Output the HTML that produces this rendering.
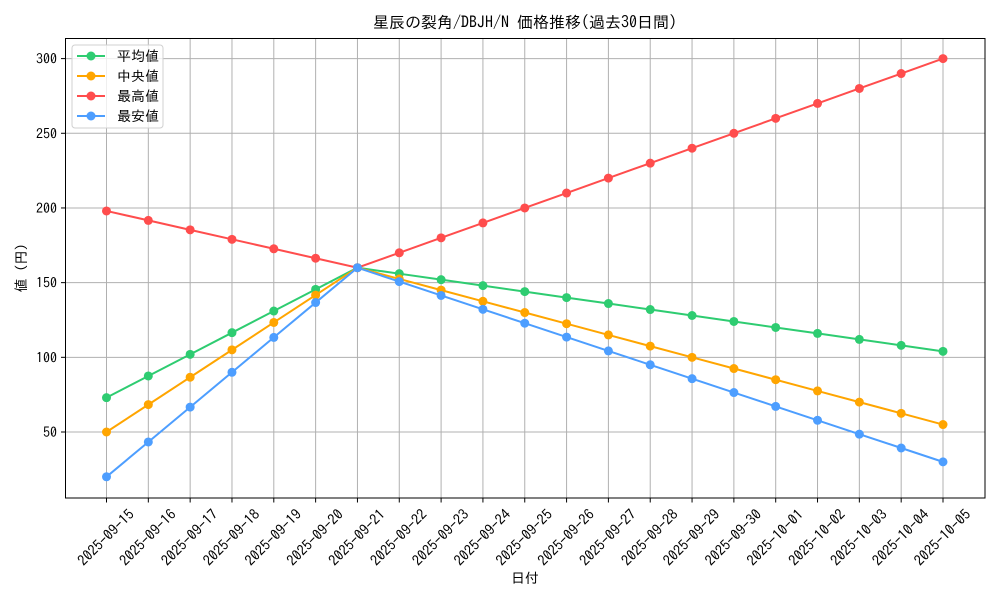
<!DOCTYPE html><html><head><meta charset="utf-8"><style>body{margin:0;background:#fff}svg{display:block;font-family:"IPAGothic","Noto Sans CJK JP",sans-serif}</style></head><body>
<svg id="s" width="1000" height="600" xmlns="http://www.w3.org/2000/svg"></svg>
<script>
const s=document.getElementById('s');let h='';
const X=i=>106.5+i*41.825, Y=v=>432-(v-50)*1.4936;
const dates=[];for(let i=0;i<21;i++){const d=new Date(Date.UTC(2025,8,15+i));dates.push(d.toISOString().slice(0,10));}
for(let i=0;i<21;i++){h+=`<line x1="${X(i)}" y1="38.5" x2="${X(i)}" y2="498" stroke="#b0b0b0" stroke-width="1"/>`;}
for(let v=50;v<=300;v+=50){h+=`<line x1="65.5" y1="${Y(v)}" x2="985" y2="${Y(v)}" stroke="#b0b0b0" stroke-width="1"/>`;
h+=`<line x1="61" y1="${Y(v)}" x2="65.5" y2="${Y(v)}" stroke="#000"/><text x="57" y="${Y(v)+5}" font-size="14" text-anchor="end">${v}</text>`;}
for(let i=0;i<21;i++){h+=`<line x1="${X(i)}" y1="498" x2="${X(i)}" y2="502.5" stroke="#000"/><text transform="translate(${X(i)+3},541) rotate(-45)" font-size="14.5" text-anchor="middle">${dates[i]}</text>`;}
const lin=(a,b,n)=>Array.from({length:n},(_,k)=>a+(b-a)*k/(n-1));
const ser=[
['#2ecc71',[...lin(73,160,7),...lin(156,104,14)]],
['#ffa500',[...lin(50,160,7),...lin(152.5,55,14)]],
['#ff4d4d',[...lin(198,160,7),...lin(170,300,14)]],
['#4d9eff',[...lin(20,160,7),...lin(150.7,30,14)]]];
for(const [c,d] of ser){h+=`<polyline fill="none" stroke="${c}" stroke-width="2" points="${d.map((v,i)=>X(i)+','+Y(v)).join(' ')}"/>`;
d.forEach((v,i)=>h+=`<circle cx="${X(i)}" cy="${Y(v)}" r="4.5" fill="${c}"/>`);}
h+=`<rect x="65.5" y="38.5" width="919.5" height="459.5" fill="none" stroke="#000" stroke-width="1"/>`;
h+=`<rect x="72" y="45" width="91" height="83" rx="3" fill="#fff" fill-opacity="0.8" stroke="#d0d0d0"/>`;
const names=['平均値','中央値','最高値','最安値'];
ser.forEach(([c],k)=>{const y=56+k*20;h+=`<line x1="77" y1="${y}" x2="105" y2="${y}" stroke="${c}" stroke-width="2"/><circle cx="91" cy="${y}" r="4.5" fill="${c}"/><text x="117" y="${y+5}" font-size="14">${names[k]}</text>`;});
h+=`<text x="525" y="28" font-size="16" text-anchor="middle">星辰の裂角/DBJH/N 価格推移(過去30日間)</text>`;
h+=`<text x="525" y="583" font-size="14" text-anchor="middle">日付</text>`;
h+=`<text transform="translate(26,268) rotate(-90)" font-size="14" text-anchor="middle">値 (円)</text>`;
s.innerHTML=h;
</script></body></html>
